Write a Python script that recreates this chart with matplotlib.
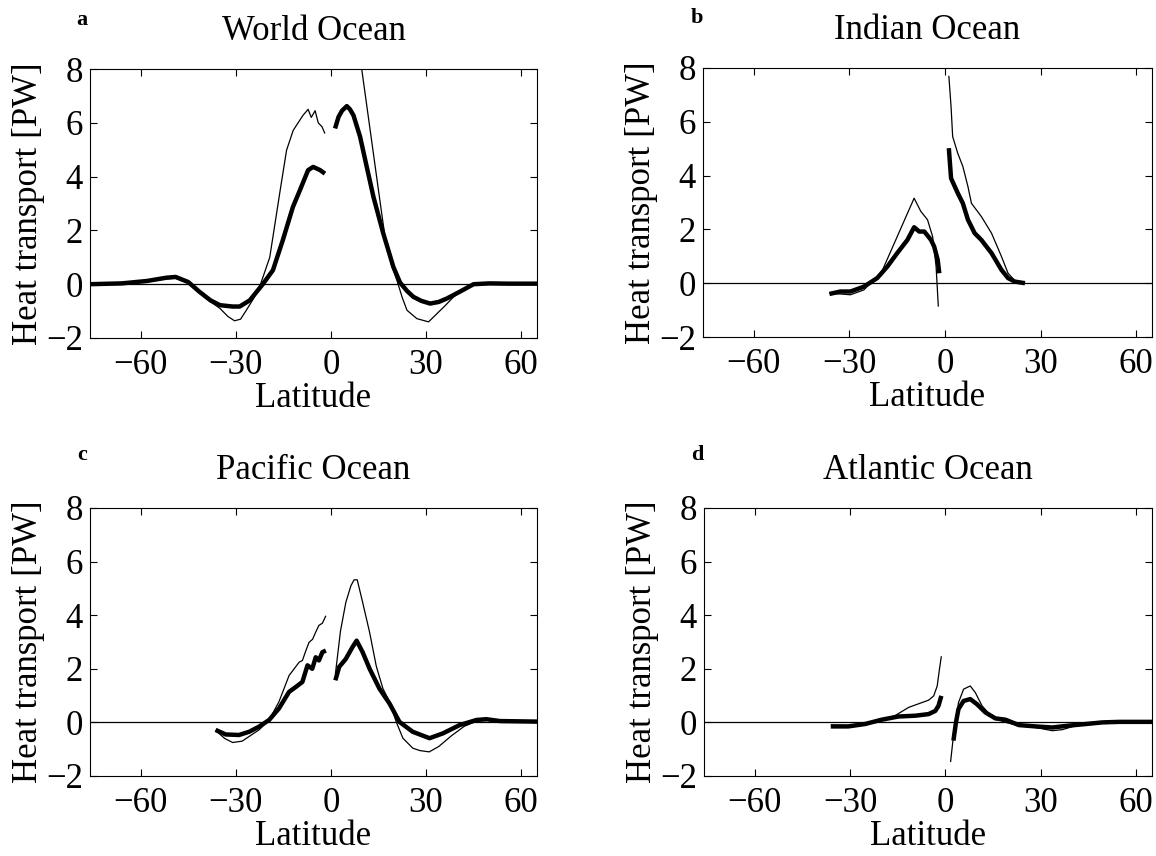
import numpy as np
import matplotlib
matplotlib.use('Agg')
import matplotlib.pyplot as plt

plt.rcParams['font.family'] = ['Liberation Serif', 'DejaVu Serif']

# ---- dati (latitudine, PW) ----
# World Ocean
wo_thick_s_lat = [-76, -66, -58, -52, -49, -45, -41.5, -38, -35, -31, -28.8, -25.6, -21.5, -18.3, -15.2, -12, -9.8, -7.2, -5.6, -4.5, -3.4, -1.9]
wo_thick_s_val = [0, 0.03, 0.12, 0.24, 0.27, 0.08, -0.28, -0.6, -0.78, -0.83, -0.83, -0.6, 0, 0.52, 1.63, 2.87, 3.49, 4.24, 4.36, 4.3, 4.24, 4.11]
wo_thin_s_lat = [-76, -66, -58, -52, -49, -45, -41.5, -38, -35, -32.5, -30.4, -28.5, -26.7, -24.5, -22.5, -19.3, -16, -14, -11.9, -8.8, -7.2, -6.2, -5, -4, -2.8, -1.9]
wo_thin_s_val = [0, 0.02, 0.1, 0.2, 0.22, 0.05, -0.3, -0.65, -0.9, -1.2, -1.36, -1.3, -0.97, -0.55, -0.1, 1.0, 3.5, 4.98, 5.72, 6.28, 6.5, 6.2, 6.45, 6.0, 5.85, 5.6]
wo_thick_n_lat = [1.3, 2.4, 3.5, 5, 6, 7.1, 9.2, 11.3, 13.4, 16.5, 19.7, 21.8, 24, 26, 28.5, 31.3, 34, 36.6, 40.8, 45, 50, 56, 65]
wo_thick_n_val = [5.79, 6.22, 6.45, 6.62, 6.5, 6.28, 5.48, 4.36, 3.25, 1.89, 0.64, 0.06, -0.25, -0.47, -0.62, -0.72, -0.66, -0.53, -0.27, 0, 0.03, 0.02, 0.02]
wo_thin_n_lat = [9.0, 15, 17, 19, 20.8, 22.5, 24, 27.1, 30.8, 33.4, 36, 38.7, 42.9, 46, 52, 65]
wo_thin_n_val = [8.6, 3.49, 1.8, 0.75, 0.15, -0.5, -0.97, -1.28, -1.4, -1.1, -0.8, -0.47, -0.1, 0, 0.02, 0.02]

# Indian Ocean
io_thick_s_lat = [-36.3, -32.9, -29.7, -25.5, -21.3, -18.1, -15, -11.8, -9.7, -8.1, -6.5, -4.4, -3.4, -2.3, -1.8]
io_thick_s_val = [-0.4, -0.31, -0.31, -0.13, 0.19, 0.62, 1.12, 1.61, 2.08, 1.92, 1.92, 1.61, 1.36, 0.87, 0.37]
io_thin_s_lat = [-36.3, -32.9, -29.7, -25.5, -22.4, -20.3, -9.7, -7.6, -5.5, -3.9, -2.8, -2.1]
io_thin_s_val = [-0.38, -0.4, -0.43, -0.25, 0.12, 0.31, 3.16, 2.67, 2.36, 1.74, 0.62, -0.87]
io_thick_n_lat = [1.2, 1.9, 4, 5.6, 7.2, 9.3, 11.4, 14.6, 17.7, 19.8, 21.9, 25.1]
io_thick_n_val = [5.02, 3.9, 3.35, 2.97, 2.36, 1.86, 1.61, 1.12, 0.5, 0.19, 0.06, 0]
io_thin_n_lat = [1.2, 1.9, 2.4, 4, 5.6, 7.2, 8.3, 11.4, 14.6, 17.7, 19.8, 21.9, 25.1]
io_thin_n_val = [7.71, 6.56, 5.45, 4.83, 4.34, 3.59, 2.97, 2.48, 1.86, 1.0, 0.37, 0.1, 0]

# Pacific Ocean
po_thick_s_lat = [-36.4, -33.2, -29, -25.8, -22.7, -19.5, -16.4, -13.2, -11.1, -9, -7.4, -5.9, -4.8, -3.8, -2.7, -1.6]
po_thick_s_val = [-0.28, -0.45, -0.47, -0.35, -0.16, 0.09, 0.52, 1.14, 1.32, 1.51, 2.13, 2.0, 2.43, 2.31, 2.62, 2.68]
po_thin_s_lat = [-36.4, -33.5, -31, -28, -25.5, -22.7, -19.5, -16.4, -13.2, -10, -9, -7.9, -6.9, -5.8, -4.8, -3.8, -2.7, -1.6]
po_thin_s_val = [-0.3, -0.6, -0.75, -0.7, -0.5, -0.28, 0.09, 0.77, 1.75, 2.25, 2.31, 2.68, 2.99, 3.1, 3.37, 3.62, 3.7, 3.98]
po_thick_n_lat = [1.4, 2.6, 4.7, 6.8, 8.1, 10, 12.2, 15.3, 18.5, 21.6, 25.8, 31.1, 35.3, 40.6, 45.9, 49, 53.3, 65]
po_thick_n_val = [1.57, 2.07, 2.37, 2.81, 3.05, 2.62, 2.0, 1.26, 0.7, 0.02, -0.35, -0.59, -0.41, -0.1, 0.09, 0.12, 0.05, 0.03]
po_thin_n_lat = [1.4, 3, 4.7, 6.3, 7.3, 8.3, 10, 12.2, 14.3, 16.4, 18.5, 20.6, 22.7, 25.8, 28, 31, 34, 38, 42, 46, 50, 65]
po_thin_n_val = [1.8, 3.4, 4.48, 5.1, 5.32, 5.32, 4.48, 3.36, 2.1, 1.26, 0.77, 0.02, -0.59, -0.96, -1.05, -1.1, -0.9, -0.5, -0.15, 0.05, 0.08, 0.03]

# Atlantic Ocean
ao_thick_s_lat = [-36.1, -30.6, -25.3, -20.1, -14.8, -9.5, -5.3, -3.2, -2.2, -1.3]
ao_thick_s_val = [-0.15, -0.15, -0.06, 0.1, 0.22, 0.25, 0.31, 0.43, 0.62, 0.99]
ao_thin_s_lat = [-36.1, -30.6, -25.3, -20.1, -15.9, -11.6, -7.4, -5.3, -3.7, -2.6, -1.9, -1.3]
ao_thin_s_val = [-0.1, -0.12, -0.05, 0.1, 0.25, 0.56, 0.74, 0.83, 0.99, 1.36, 1.98, 2.47]
ao_thick_n_lat = [2.5, 3.3, 4.1, 5.7, 7.8, 9.9, 12.6, 15.7, 18.9, 23.1, 28.4, 33.6, 38.9, 44.2, 49.4, 54.7, 65]
ao_thick_n_val = [-0.68, 0, 0.5, 0.8, 0.87, 0.68, 0.37, 0.15, 0.1, -0.1, -0.15, -0.19, -0.12, -0.06, 0, 0.02, 0.02]
ao_thin_n_lat = [1.6, 2.6, 4.1, 5.7, 7.8, 9.4, 11.5, 14.7, 18.9, 23.1, 28.4, 33.6, 36.8, 41, 49.4, 58, 65]
ao_thin_n_val = [-1.48, -0.4, 0.74, 1.24, 1.36, 1.11, 0.62, 0.19, 0, -0.12, -0.19, -0.31, -0.27, -0.12, 0, 0.02, 0.02]

titles = ['World Ocean', 'Indian Ocean', 'Pacific Ocean', 'Atlantic Ocean']
letters = ['a', 'b', 'c', 'd']
xticks = [-60, -30, 0, 30, 60]
yticks = [-2, 0, 2, 4, 6, 8]

curves = [
    [(wo_thin_s_lat, wo_thin_s_val), (wo_thin_n_lat, wo_thin_n_val), (wo_thick_s_lat, wo_thick_s_val), (wo_thick_n_lat, wo_thick_n_val)],
    [(io_thin_s_lat, io_thin_s_val), (io_thin_n_lat, io_thin_n_val), (io_thick_s_lat, io_thick_s_val), (io_thick_n_lat, io_thick_n_val)],
    [(po_thin_s_lat, po_thin_s_val), (po_thin_n_lat, po_thin_n_val), (po_thick_s_lat, po_thick_s_val), (po_thick_n_lat, po_thick_n_val)],
    [(ao_thin_s_lat, ao_thin_s_val), (ao_thin_n_lat, ao_thin_n_val), (ao_thick_s_lat, ao_thick_s_val), (ao_thick_n_lat, ao_thick_n_val)],
]

W, H = 1156, 856
fig = plt.figure(figsize=(W / 100, H / 100), dpi=100)
fs = 25

# posizioni in pixel: (sinistra, alto, destra, basso)
boxes = [(90, 69, 537, 338), (703, 68, 1152, 337), (90, 508, 537, 776), (704, 508, 1152, 776)]
letter_pos = [(82, 20), (697, 18), (82, 455), (697, 455)]

def fmt(v):
    return '\u2212' + str(-v) if v < 0 else str(v)

for i in range(4):
    l, t, r, b = boxes[i]
    ax = fig.add_axes([l / W, 1 - b / H, (r - l) / W, (b - t) / H])
    ax.axhline(0, color='black', lw=0.9)
    for k, (x, y) in enumerate(curves[i]):
        lw = 0.9 if k < 2 else 3.2
        ax.plot(x, y, color='black', lw=lw, solid_joinstyle='round', solid_capstyle='butt')
    ax.set_xlim(-76, 65)
    ax.set_ylim(-2, 8)
    ax.set_xticks(xticks)
    ax.set_yticks(yticks)
    ax.set_xticklabels([fmt(v) for v in xticks])
    ax.set_yticklabels([fmt(v) for v in yticks])
    ax.tick_params(direction='in', top=True, right=True, length=5, width=0.8, labelsize=fs)
    ax.tick_params(axis='x', pad=8)
    ax.tick_params(axis='y', pad=5)
    for s in ax.spines.values():
        s.set_linewidth(0.8)
    ax.set_title(titles[i], fontsize=fs, pad=21)
    ax.set_xlabel('Latitude', fontsize=fs, labelpad=0)
    ax.set_ylabel('Heat transport [PW]', fontsize=fs, labelpad=1)
    fig.text(letter_pos[i][0] / W, 1 - letter_pos[i][1] / H, letters[i], fontsize=16,
             fontweight='bold', ha='center', va='center')

fig.savefig('out.png', dpi=100)
